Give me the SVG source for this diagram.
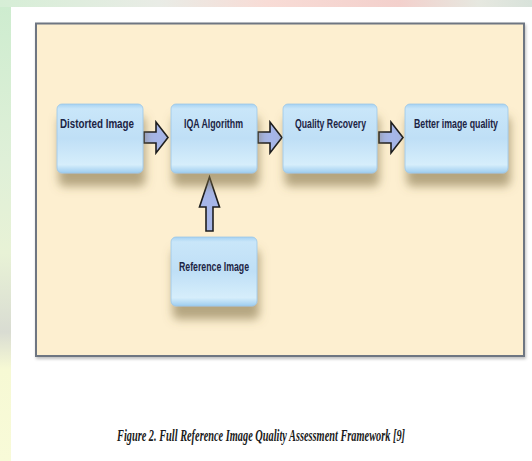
<svg xmlns="http://www.w3.org/2000/svg" width="532" height="461" viewBox="0 0 532 461">
  <defs>
    <linearGradient id="leftStrip" x1="0" y1="0" x2="0" y2="1">
      <stop offset="0" stop-color="#cdeccf"/>
      <stop offset="0.35" stop-color="#dff0d8"/>
      <stop offset="0.55" stop-color="#e8f2d6"/>
      <stop offset="0.72" stop-color="#d9dcd2"/>
      <stop offset="0.8" stop-color="#f6f9d4"/>
      <stop offset="1" stop-color="#f8fad8"/>
    </linearGradient>
    <linearGradient id="topStrip" x1="0" y1="0" x2="1" y2="0">
      <stop offset="0" stop-color="#d6eed6"/>
      <stop offset="0.3" stop-color="#e9ece6"/>
      <stop offset="0.5" stop-color="#f8dcd6"/>
      <stop offset="0.75" stop-color="#f3d0cc"/>
      <stop offset="0.9" stop-color="#e6e8e0"/>
      <stop offset="1" stop-color="#d8e2da"/>
    </linearGradient>
    <linearGradient id="boxFill" x1="0" y1="0" x2="0" y2="1">
      <stop offset="0" stop-color="#a6d2f2"/>
      <stop offset="0.07" stop-color="#c9e6f9"/>
      <stop offset="0.5" stop-color="#bfdff6"/>
      <stop offset="0.88" stop-color="#d6eefb"/>
      <stop offset="1" stop-color="#9ecdf0"/>
    </linearGradient>
    <filter id="shadow" x="-30%" y="-30%" width="160%" height="180%">
      <feGaussianBlur in="SourceAlpha" stdDeviation="5"/>
      <feOffset dx="2" dy="13" result="b"/>
      <feFlood flood-color="#7a6a40" flood-opacity="0.55"/>
      <feComposite in2="b" operator="in"/>
      <feMerge><feMergeNode/><feMergeNode in="SourceGraphic"/></feMerge>
    </filter>
    <filter id="frameShadow" x="-5%" y="-5%" width="110%" height="110%">
      <feGaussianBlur in="SourceAlpha" stdDeviation="1.5"/>
      <feOffset dx="1" dy="2" result="b"/>
      <feFlood flood-color="#000" flood-opacity="0.25"/>
      <feComposite in2="b" operator="in"/>
      <feMerge><feMergeNode/><feMergeNode in="SourceGraphic"/></feMerge>
    </filter>
  </defs>
  <style>
    .box { fill: url(#boxFill); stroke: #9cc6e6; stroke-width: 0.8; }
    .lbl { font-family: "Liberation Sans", Arial, sans-serif; font-weight: bold; font-size: 13.5px; fill: #1c2444; text-anchor: middle; }
    .arrow { fill: #a6b6e8; stroke: #1e1e1e; stroke-width: 1.6; stroke-linejoin: miter; }
    .cap { font-family: "Liberation Serif", "Times New Roman", serif; font-style: italic; font-weight: bold; font-size: 17px; fill: #1a1a1a; }
  </style>

  <!-- page background -->
  <rect x="0" y="0" width="532" height="461" fill="#ffffff"/>
  <rect x="0" y="0" width="11" height="461" fill="url(#leftStrip)"/>
  <rect x="0" y="0" width="532" height="7" fill="url(#topStrip)"/>

  <!-- frame -->
  <rect x="36" y="23.5" width="488" height="332.5" fill="#fdefd0" stroke="#6e7682" stroke-width="2" filter="url(#frameShadow)"/>

  <g id="connectors">
    <path class="arrow" d="M144,132 H156 V122 L168,137.5 L156,153 V143 H144 Z"/>
    <path class="arrow" d="M258,132 H270 V122 L282,137.5 L270,153 V143 H258 Z"/>
    <path class="arrow" d="M379,132 H391 V122 L403,137.5 L391,153 V143 H379 Z"/>
    <path class="arrow" d="M206,231 V207 H199.5 L209.5,177 L219.5,207 H213 V231 Z"/>
  </g>

  <g id="distorted">
    <rect class="box" x="57" y="104" width="86" height="69" rx="5" filter="url(#shadow)"/>
    <text class="lbl" x="97" y="128" textLength="74" lengthAdjust="spacingAndGlyphs">Distorted Image</text>
  </g>
  <g id="iqa">
    <rect class="box" x="171" y="104" width="86" height="69" rx="5" filter="url(#shadow)"/>
    <text class="lbl" x="213.5" y="128" textLength="59" lengthAdjust="spacingAndGlyphs">IQA Algorithm</text>
  </g>
  <g id="quality">
    <rect class="box" x="283" y="104" width="94" height="69" rx="5" filter="url(#shadow)"/>
    <text class="lbl" x="330.5" y="128" textLength="71" lengthAdjust="spacingAndGlyphs">Quality Recovery</text>
  </g>
  <g id="better">
    <rect class="box" x="405" y="104" width="103" height="69" rx="5" filter="url(#shadow)"/>
    <text class="lbl" x="456" y="128" textLength="84" lengthAdjust="spacingAndGlyphs">Better image quality</text>
  </g>
  <g id="reference">
    <rect class="box" x="171" y="237" width="86" height="69" rx="5" filter="url(#shadow)"/>
    <text class="lbl" x="214" y="271" textLength="70" lengthAdjust="spacingAndGlyphs">Reference Image</text>
  </g>

  <text class="cap" x="117" y="441" textLength="288" lengthAdjust="spacingAndGlyphs">Figure 2. Full Reference Image Quality Assessment Framework [9]</text>
</svg>
